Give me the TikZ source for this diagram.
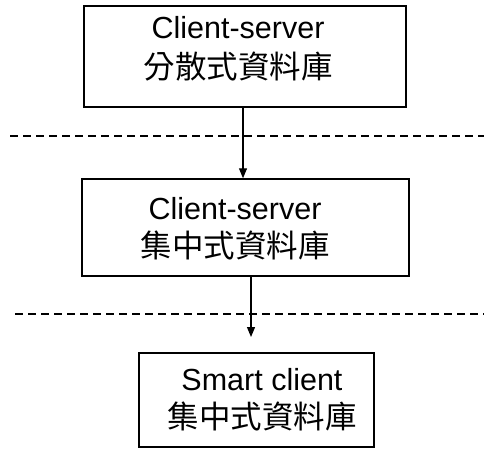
\documentclass[tikz,border=0pt]{standalone}
\usepackage{fontspec}
\setmainfont{Liberation Sans}
\newfontfamily\cjk{Noto Sans CJK TC}
\usetikzlibrary{arrows.meta}
\begin{document}
\begin{tikzpicture}[x=1pt,y=-1pt,
  box/.style={draw, line width=1.5pt, inner sep=0pt},
  txt/.style={inner sep=0pt, align=center,
    font=\fontsize{30.5}{38}\selectfont},
  conn/.style={line width=1.2pt, -{Triangle[length=10pt,width=8pt]}},
  sep/.style={line width=1.2pt, dash pattern=on 8pt off 5pt}]
\useasboundingbox (0,0) rectangle (486,448);
\node[box, minimum width=322pt, minimum height=101pt] (b1) at (245,56.5) {};
\node[box, minimum width=327pt, minimum height=97pt] (b2) at (245.5,227.5) {};
\node[box, minimum width=235pt, minimum height=94pt] (b3) at (256.5,400) {};
\node[txt, font=\fontsize{30.5}{40}\selectfont] (t1) at (238,48.5)
  {Client-server\\{\cjk\fontsize{31.5}{40}\selectfont 分散式資料庫}};
\node[txt] (t2) at (235,228.5)
  {Client-server\\{\cjk\fontsize{31.5}{38}\selectfont 集中式資料庫}};
\node[txt] (t3) at (262,400)
  {Smart client\\{\cjk\fontsize{31.5}{38}\selectfont 集中式資料庫}};
\coordinate (d1a) at (10,136);
\coordinate (d1b) at (484,136);
\coordinate (d2a) at (15,314);
\coordinate (d2b) at (484,314);
\draw[sep] (d1a) -- (d1b);
\draw[sep] (d2a) -- (d2b);
\draw[conn] ([xshift=-2pt]b1.south) -- ([xshift=-2pt]b1.south |- b2.north);
\coordinate (e2) at (251,337);
\draw[conn] (e2 |- b2.south) -- (e2);
\end{tikzpicture}
\end{document}
